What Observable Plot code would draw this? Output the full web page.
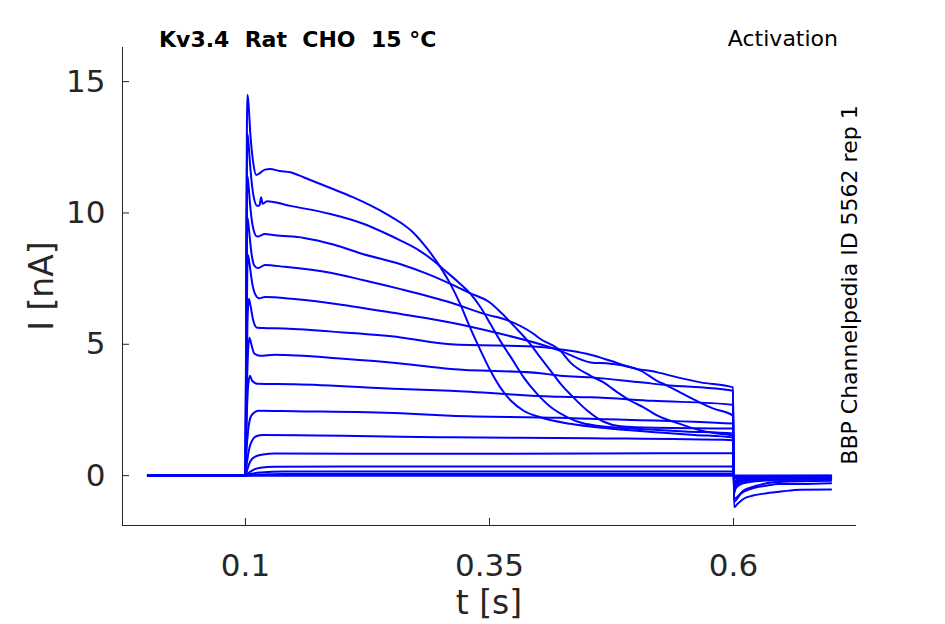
<!DOCTYPE html>
<html>
<head>
<meta charset="utf-8">
<script src="https://cdn.jsdelivr.net/npm/d3@7"></script>
<script src="https://cdn.jsdelivr.net/npm/@observablehq/plot@0.6"></script>
<style>
  html, body { margin: 0; padding: 0; background: #fff; }
  svg { display: block; }
</style>
</head>
<body>
<div id="chart"></div>
<script>
// ---- text ----
const titleText = "Kv3.4  Rat  CHO  15 °C";
const protocolText = "Activation";
const sourceText = "BBP Channelpedia ID 5562 rep 1";
const xLabel = "t [s]";
const yLabel = "I [nA]";

// ---- axes ----
const xDomain = [-0.026, 0.726];
const yDomain = [-1.9, 16.3];
const xTicks = [0.1, 0.35, 0.6];
const yTicks = [0, 5, 10, 15];

// ---- sweeps: [time (s), current (nA)] ----
const sweep01 = [[0,0],[0.1,0],[0.1008,8],[0.1015,13.5],[0.102,14.5],[0.103,14.2],[0.105,13.0],[0.108,11.9],[0.111,11.45],[0.114,11.5],[0.12,11.65],[0.125,11.67],[0.135,11.6],[0.146,11.55],[0.16,11.35],[0.187,10.95],[0.21,10.6],[0.23,10.25],[0.245,9.95],[0.259,9.63],[0.272,9.25],[0.286,8.65],[0.30,7.92],[0.31,7.29],[0.32,6.53],[0.33,5.64],[0.341,4.75],[0.351,3.99],[0.361,3.36],[0.372,2.85],[0.385,2.47],[0.402,2.22],[0.433,1.97],[0.47,1.8],[0.52,1.65],[0.56,1.55],[0.5995,1.45],[0.6005,-0.35],[0.603,-0.22],[0.61,-0.15],[0.63,-0.12],[0.7,-0.1]];
const sweep02 = [[0,0],[0.1,0],[0.1008,7],[0.1015,12],[0.102,13.0],[0.103,12.7],[0.105,11.7],[0.108,10.7],[0.112,10.27],[0.1145,10.3],[0.116,10.6],[0.1175,10.35],[0.122,10.45],[0.146,10.27],[0.187,9.96],[0.22,9.6],[0.245,9.2],[0.259,8.95],[0.279,8.55],[0.293,8.17],[0.303,7.85],[0.317,7.4],[0.331,6.9],[0.341,6.4],[0.351,5.77],[0.361,5.13],[0.372,4.5],[0.385,3.74],[0.399,3.1],[0.413,2.6],[0.43,2.22],[0.445,2.0],[0.464,1.88],[0.5,1.78],[0.55,1.68],[0.5995,1.6],[0.6005,-0.4],[0.603,-0.25],[0.61,-0.16],[0.63,-0.12],[0.7,-0.1]];
const sweep03 = [[0,0],[0.1,0],[0.1008,6],[0.1015,10.5],[0.102,11.4],[0.103,11.1],[0.105,10.2],[0.108,9.4],[0.112,9.1],[0.12,9.2],[0.13,9.15],[0.16,9.05],[0.19,8.8],[0.22,8.44],[0.259,8.05],[0.285,7.7],[0.31,7.3],[0.33,6.95],[0.35,6.6],[0.362,6.2],[0.375,5.7],[0.392,5.0],[0.402,4.5],[0.4125,4.0],[0.4227,3.5],[0.4361,2.97],[0.4504,2.47],[0.467,2.05],[0.484,1.88],[0.52,1.82],[0.5995,1.79],[0.6005,-0.35],[0.603,-0.22],[0.61,-0.15],[0.63,-0.1],[0.7,-0.08]];
const sweep04 = [[0,0],[0.1,0],[0.1008,5],[0.1015,9],[0.1022,9.8],[0.1035,9.4],[0.106,8.5],[0.109,8.0],[0.113,7.9],[0.12,8.02],[0.14,7.95],[0.187,7.72],[0.22,7.45],[0.259,7.1],[0.31,6.59],[0.35,6.1],[0.3613,6.0],[0.395,5.4],[0.4022,5.2],[0.4227,4.75],[0.433,4.3],[0.4535,3.8],[0.4668,3.55],[0.4811,3.17],[0.4944,2.85],[0.5078,2.6],[0.5221,2.28],[0.5426,2.0],[0.5631,1.75],[0.58,1.62],[0.5995,1.52],[0.6005,-0.45],[0.603,-0.3],[0.61,-0.2],[0.63,-0.13],[0.7,-0.1]];
const sweep05 = [[0,0],[0.1,0],[0.1008,4],[0.1018,7.6],[0.1025,8.4],[0.104,8.1],[0.107,7.3],[0.11,6.9],[0.114,6.75],[0.12,6.8],[0.15,6.72],[0.2,6.5],[0.259,6.15],[0.31,5.83],[0.3613,5.4],[0.4022,5.0],[0.4227,4.75],[0.4535,4.31],[0.474,4.26],[0.5047,4.0],[0.522,3.6],[0.5324,3.42],[0.5488,3.1],[0.5662,2.77],[0.5795,2.55],[0.5995,2.28],[0.6005,-0.7],[0.602,-0.5],[0.606,-0.35],[0.615,-0.25],[0.64,-0.18],[0.7,-0.15]];
const sweep06 = [[0,0],[0.1,0],[0.101,3],[0.102,5.8],[0.1035,6.73],[0.105,6.5],[0.108,5.9],[0.112,5.63],[0.118,5.62],[0.14,5.6],[0.2,5.45],[0.259,5.26],[0.31,5.0],[0.4022,4.9],[0.433,4.75],[0.4535,4.6],[0.474,4.37],[0.4944,4.12],[0.5221,3.93],[0.5426,3.74],[0.5662,3.55],[0.5995,3.36],[0.6005,-1.2],[0.604,-1.08],[0.61,-0.89],[0.62,-0.76],[0.634,-0.67],[0.65,-0.6],[0.668,-0.54],[0.7,-0.53]];
const sweep07 = [[0,0],[0.1,0],[0.101,2.5],[0.1025,4.6],[0.104,5.25],[0.106,5.0],[0.109,4.65],[0.115,4.56],[0.13,4.6],[0.2,4.45],[0.259,4.27],[0.31,4.06],[0.4022,3.9],[0.4227,3.8],[0.4535,3.74],[0.5047,3.55],[0.5385,3.42],[0.5662,3.36],[0.5995,3.23],[0.6005,-1.0],[0.6072,-0.7],[0.6174,-0.51],[0.6348,-0.38],[0.645,-0.32],[0.67,-0.32],[0.7,-0.29]];
const sweep08 = [[0,0],[0.1,0],[0.101,1.8],[0.1025,3.3],[0.1045,3.8],[0.107,3.6],[0.112,3.5],[0.15,3.48],[0.259,3.3],[0.31,3.23],[0.4227,3.0],[0.4535,2.98],[0.5167,2.85],[0.5995,2.7],[0.6005,-0.88],[0.6102,-0.57],[0.6245,-0.38],[0.6409,-0.25],[0.7,-0.2]];
const sweep09 = [[0,0],[0.1,0],[0.101,0.9],[0.103,1.8],[0.1055,2.25],[0.109,2.4],[0.113,2.47],[0.15,2.45],[0.259,2.37],[0.31,2.28],[0.4227,2.2],[0.4535,2.16],[0.5995,1.98],[0.6005,-0.5],[0.6072,-0.25],[0.63,-0.15],[0.7,-0.13]];
const sweep10 = [[0,0],[0.1,0],[0.1015,0.5],[0.104,1.05],[0.107,1.35],[0.111,1.5],[0.118,1.55],[0.2,1.52],[0.259,1.48],[0.31,1.46],[0.4535,1.42],[0.5995,1.35],[0.6005,-0.3],[0.606,-0.18],[0.63,-0.1],[0.7,-0.08]];
const sweep11 = [[0,0],[0.1,0],[0.102,0.25],[0.105,0.55],[0.11,0.72],[0.118,0.8],[0.13,0.84],[0.3,0.83],[0.5995,0.85],[0.6005,-0.22],[0.606,-0.12],[0.63,-0.07],[0.7,-0.06]];
const sweep12 = [[0,0],[0.1,0],[0.103,0.1],[0.108,0.22],[0.115,0.3],[0.13,0.34],[0.3,0.35],[0.5995,0.35],[0.6005,-0.12],[0.61,-0.06],[0.7,-0.04]];
const sweep13 = [[0,0],[0.1,0],[0.105,0.06],[0.115,0.12],[0.14,0.16],[0.5995,0.16],[0.6005,-0.06],[0.7,-0.03]];
const sweep14 = [[0,0],[0.1,0],[0.11,0.03],[0.14,0.06],[0.5995,0.06],[0.6005,-0.04],[0.7,-0.02]];
const sweep15 = [[0,0],[0.1,0],[0.5995,0.01],[0.6005,-0.02],[0.7,-0.01]];
const sweep16 = [[0,0],[0.7,0]];

const sweeps = [sweep01, sweep02, sweep03, sweep04, sweep05, sweep06, sweep07, sweep08,
                sweep09, sweep10, sweep11, sweep12, sweep13, sweep14, sweep15, sweep16];
const rows = sweeps.flatMap((s, k) => s.map(([t, i]) => ({sweep: k + 1, t, i})));

const axisColor = "#262626";
const traceColor = "#0000ff";

const chart = Plot.plot({
  width: 945,
  height: 624,
  marginLeft: 122,
  marginRight: 89,
  marginTop: 47,
  marginBottom: 99,
  style: {fontFamily: "DejaVu Sans", background: "#ffffff", color: axisColor, overflow: "visible"},
  x: {domain: xDomain},
  y: {domain: yDomain},
  marks: [
    Plot.line(rows, {x: "t", y: "i", z: "sweep", stroke: traceColor, strokeWidth: 2, curve: "monotone-x"}),
    Plot.ruleX([xDomain[0]], {stroke: axisColor, strokeWidth: 1}),
    Plot.ruleY([yDomain[0]], {stroke: axisColor, strokeWidth: 1}),
    Plot.axisX(xTicks, {anchor: "bottom", tickSize: -7, tickPadding: 35, fontSize: 31, stroke: axisColor, fill: axisColor, label: null, tickFormat: d => String(d)}),
    Plot.axisY(yTicks, {anchor: "left", tickSize: -7, tickPadding: 24, fontSize: 31, stroke: axisColor, fill: axisColor, label: null, tickFormat: d => String(d)})
  ]
});

const svg = d3.select(chart);
svg.append("text")
  .attr("x", 159).attr("y", 47).attr("text-anchor", "start")
  .attr("font-family", "DejaVu Sans").attr("font-size", 22).attr("font-weight", "bold")
  .attr("fill", "#000").style("white-space", "pre")
  .text(titleText);
svg.append("text")
  .attr("x", 838).attr("y", 46).attr("text-anchor", "end")
  .attr("font-family", "DejaVu Sans").attr("font-size", 22).attr("fill", "#000")
  .text(protocolText);
svg.append("text")
  .attr("transform", "translate(857,285) rotate(-90)").attr("text-anchor", "middle")
  .attr("font-family", "DejaVu Sans").attr("font-size", 22).attr("fill", "#000")
  .text(sourceText);
svg.append("text")
  .attr("x", 489).attr("y", 614).attr("text-anchor", "middle")
  .attr("font-family", "DejaVu Sans").attr("font-size", 33).attr("fill", axisColor)
  .text(xLabel);
svg.append("text")
  .attr("transform", "translate(53,286) rotate(-90)").attr("text-anchor", "middle")
  .attr("font-family", "DejaVu Sans").attr("font-size", 33).attr("fill", axisColor)
  .text(yLabel);

document.getElementById("chart").appendChild(chart);
</script>
</body>
</html>
